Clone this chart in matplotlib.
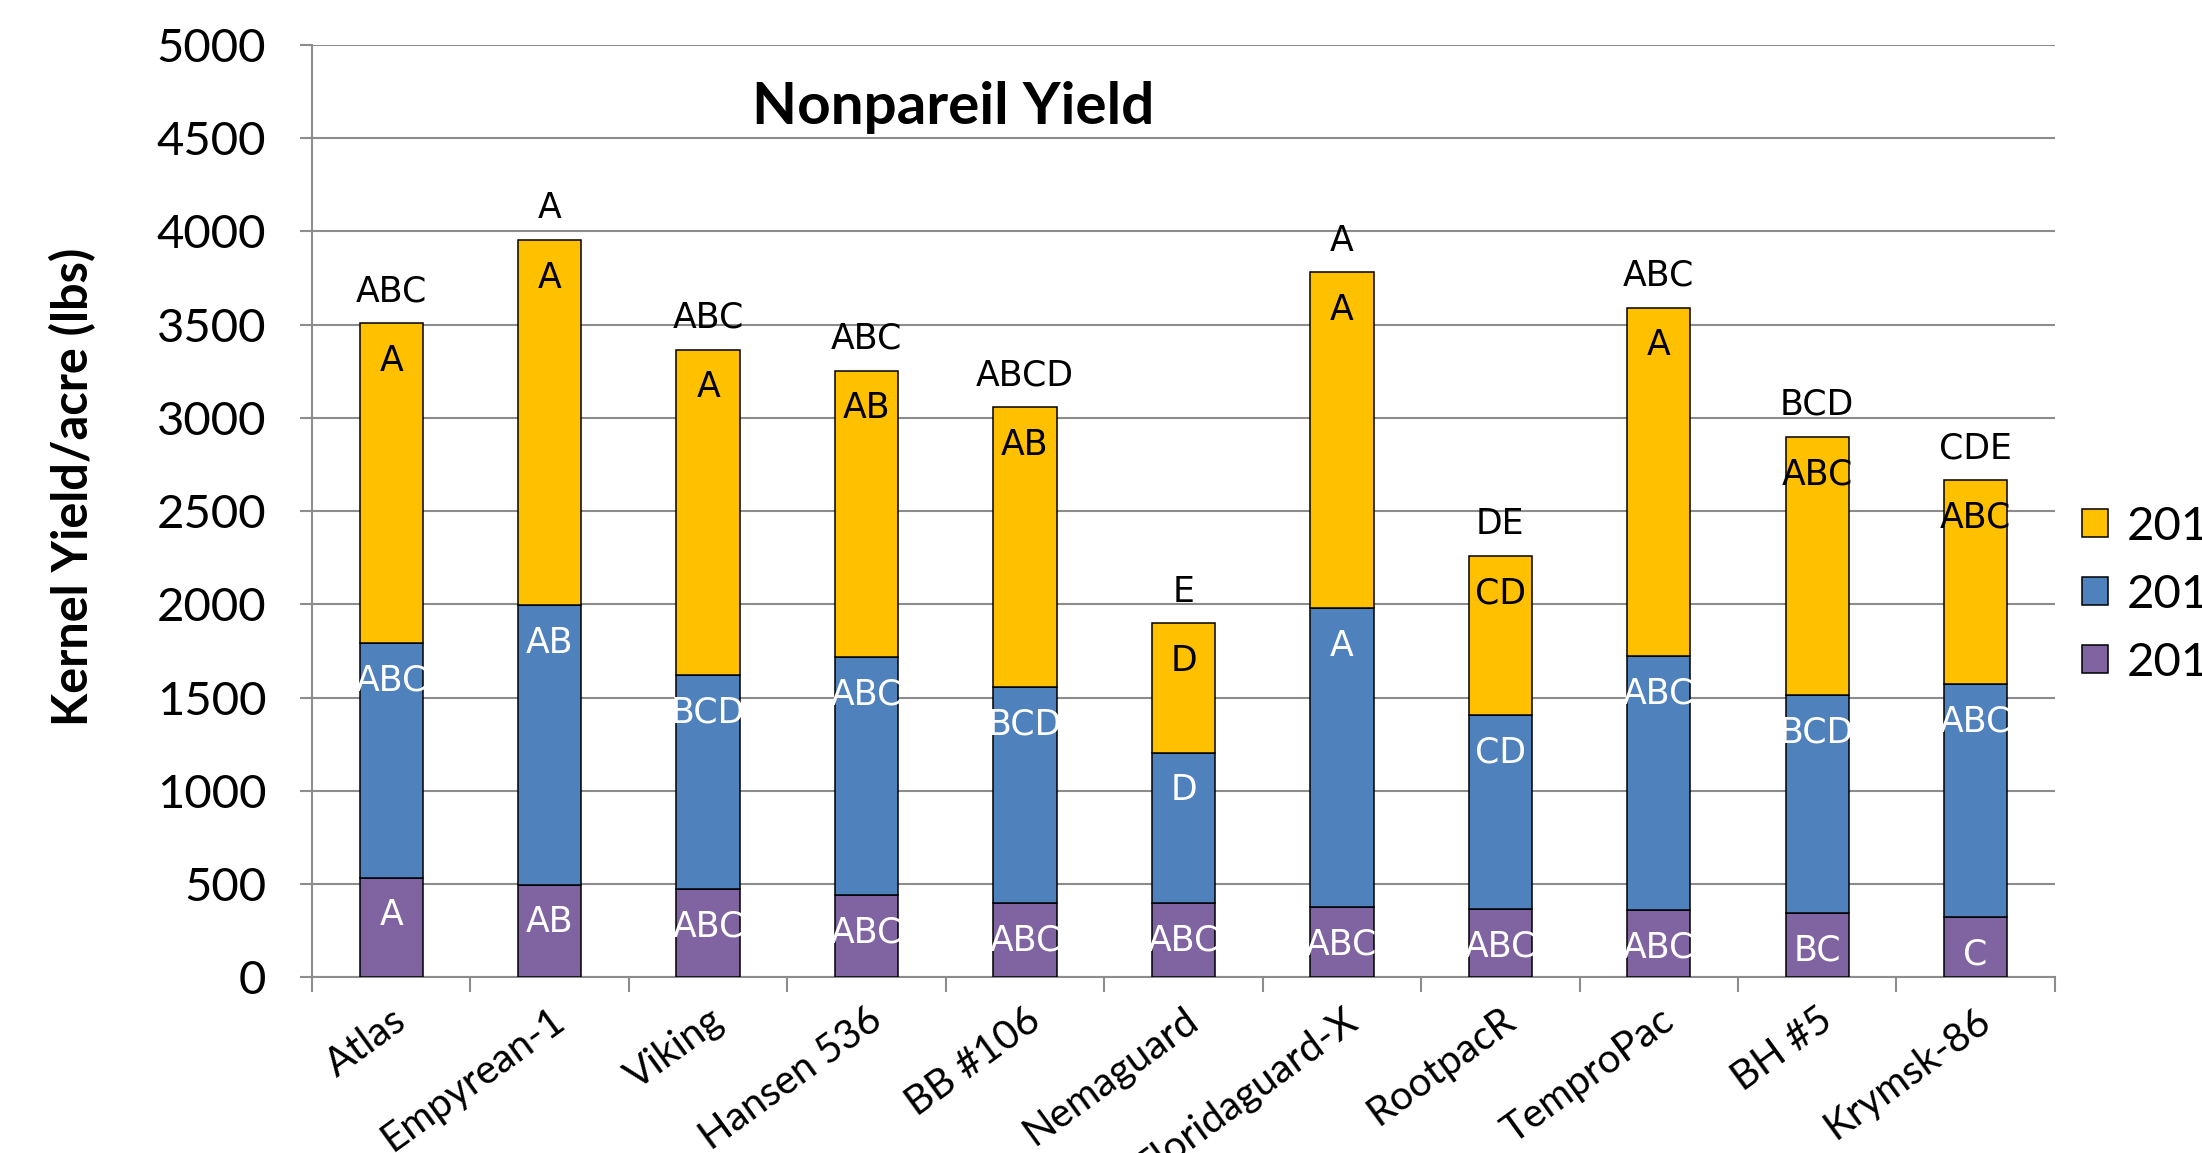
import matplotlib
matplotlib.use("Agg")
import matplotlib.pyplot as plt
import numpy as np
from matplotlib.patches import Patch

ROOTSTOCKS = ["Atlas", "Empyrean-1", "Viking", "Hansen 536", "BB #106", "Nemaguard",
              "Floridaguard-X", "RootpacR", "TemproPac", "BH #5", "Krymsk-86"]

# segment heights (lbs/acre)
Y2013 = [535, 497, 474, 444, 399, 399, 376, 369, 361, 346, 324]
Y2014 = [1257, 1498, 1145, 1273, 1160, 806, 1604, 1039, 1363, 1167, 1250]
Y2015 = [1717, 1958, 1747, 1536, 1498, 693, 1800, 851, 1868, 1386, 1092]

L2013 = ["A", "AB", "ABC", "ABC", "ABC", "ABC", "ABC", "ABC", "ABC", "BC", "C"]
L2014 = ["ABC", "AB", "BCD", "ABC", "BCD", "D", "A", "CD", "ABC", "BCD", "ABC"]
L2015 = ["A", "A", "A", "AB", "AB", "D", "A", "CD", "A", "ABC", "ABC"]
LTOTAL = ["ABC", "A", "ABC", "ABC", "ABCD", "E", "A", "DE", "ABC", "BCD", "CDE"]

COLORS = {"2013": "#8064A2", "2014": "#4F81BD", "2015": "#FFC000"}
AXIS_FONT = "Lato"
BAR_FONT = "DejaVu Sans"

fig = plt.figure(figsize=(22.02, 11.53), dpi=100)
ax = fig.add_axes([0.1417, 0.1523, 0.9332 - 0.1417, 0.961 - 0.1523])

x = np.arange(len(ROOTSTOCKS))
w = 0.4
b2013 = np.array(Y2013)
b2014 = b2013 + np.array(Y2014)
b2015 = b2014 + np.array(Y2015)

ax.bar(x, Y2013, w, color=COLORS["2013"], edgecolor="black", linewidth=1.1, zorder=3)
ax.bar(x, Y2014, w, bottom=b2013, color=COLORS["2014"], edgecolor="black", linewidth=1.1, zorder=3)
ax.bar(x, Y2015, w, bottom=b2014, color=COLORS["2015"], edgecolor="black", linewidth=1.1, zorder=3)

def seg_labels(tops, labels, color):
    for xi, t, lab in zip(x, tops, labels):
        ax.annotate(lab, (xi, t), xytext=(0, -27), textcoords="offset points",
                    ha="center", va="center", fontsize=25, color=color,
                    family=BAR_FONT, zorder=4)

seg_labels(b2013, L2013, "white")
seg_labels(b2014, L2014, "white")
seg_labels(b2015, L2015, "black")
for xi, t, lab in zip(x, b2015, LTOTAL):
    ax.annotate(lab, (xi, t), xytext=(0, 23), textcoords="offset points",
                ha="center", va="center", fontsize=25, color="black",
                family=BAR_FONT, zorder=4)

ax.set_xlim(-0.5, len(ROOTSTOCKS) - 0.5)
ax.set_ylim(0, 5000)
ax.set_yticks(np.arange(0, 5001, 500))
ax.yaxis.grid(True, color="#8c8c8c", linewidth=1.5, zorder=0)
ax.set_axisbelow(True)
for s in ["top", "right"]:
    ax.spines[s].set_visible(False)
for s in ["left", "bottom"]:
    ax.spines[s].set_color("#8c8c8c")
    ax.spines[s].set_linewidth(1.5)

ax.tick_params(axis="y", length=9, width=1.5, color="#8c8c8c", labelsize=34, pad=24)
for lab in ax.get_yticklabels():
    lab.set_family(AXIS_FONT)

ax.set_xticks(x)
ax.set_xticklabels(ROOTSTOCKS, rotation=36, ha="right", rotation_mode="anchor",
                   fontsize=29, family=AXIS_FONT)
ax.tick_params(axis="x", which="major", length=0, pad=17)
ax.set_xticks(np.arange(-0.5, len(ROOTSTOCKS), 1), minor=True)
ax.tick_params(axis="x", which="minor", length=11, width=1.5, color="#8c8c8c")

fig.text(0.033, 0.578, "Kernel Yield/acre (lbs)", rotation=90, ha="center", va="center",
         fontsize=35, fontweight="bold", family=AXIS_FONT)
fig.text(0.433, 0.907, "Nonpareil Yield", ha="center", va="center",
         fontsize=42, fontweight="bold", family=AXIS_FONT)

handles = [Patch(facecolor=COLORS[k], edgecolor="black", linewidth=1.1) for k in ["2015", "2014", "2013"]]
fig.legend(handles, ["2015", "2014", "2013"], loc="center left",
           bbox_to_anchor=(0.926, 0.484), frameon=False,
           prop={"family": AXIS_FONT, "size": 34},
           handlelength=0.55, handleheight=0.55, handletextpad=0.4, labelspacing=0.55)

fig.savefig("out.png", dpi=100)
